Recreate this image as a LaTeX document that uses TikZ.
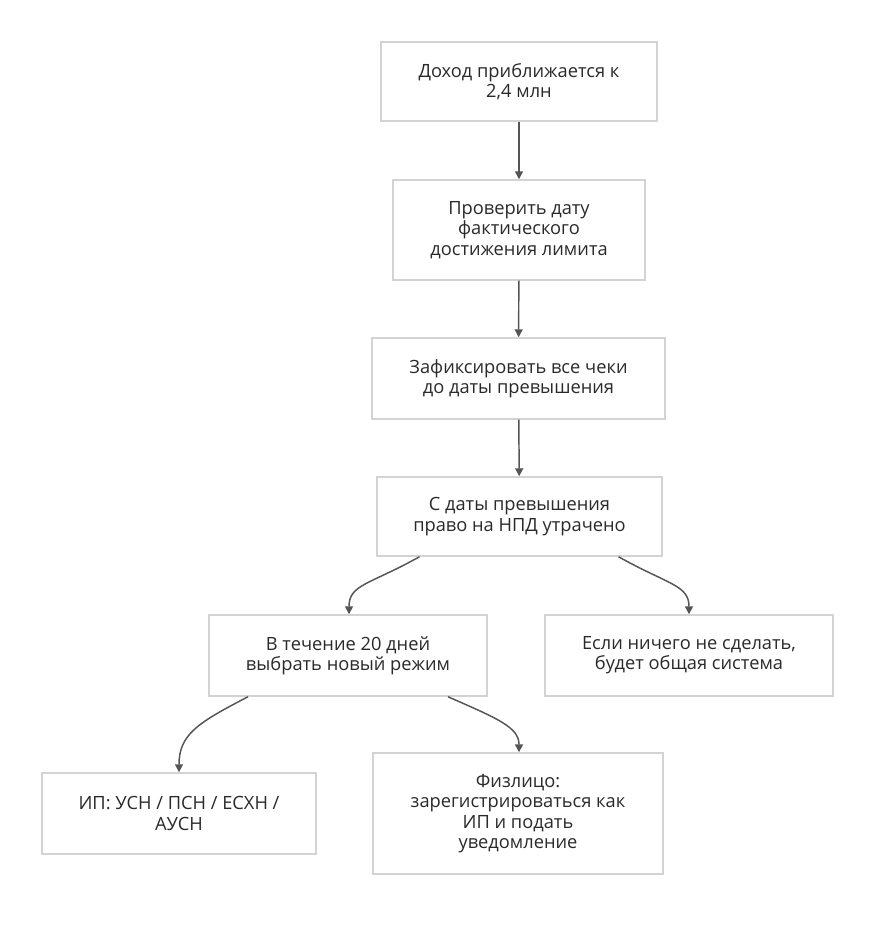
\documentclass[tikz,border=0pt]{standalone}
\usepackage{fontspec}
\setmainfont{Open Sans}
\usetikzlibrary{arrows.meta,calc}
\definecolor{boxline}{HTML}{D3D3D3}
\definecolor{edgecol}{HTML}{555555}
\definecolor{txt}{HTML}{2A2A2A}
\begin{document}
\begin{tikzpicture}[x=0.75pt,y=-0.75pt,
  box/.style={draw=boxline,line width=1.1pt,fill=white,align=center,
    text=txt,font=\fontsize{13.7pt}{15.2pt}\selectfont,inner sep=0pt},
  edge/.style={draw=edgecol,line width=1.1pt,-{Triangle[width=6pt,length=6pt]}}]
\useasboundingbox (0,0) rectangle (875,932);
\node[box,minimum width=276*0.75pt,minimum height=79*0.75pt] (n1) at (519,81.5) {Доход приближается к\\2,4 млн};
\node[box,minimum width=252*0.75pt,minimum height=100*0.75pt] (n2) at (519,230) {Проверить дату\\фактического\\достижения лимита};
\node[box,minimum width=293*0.75pt,minimum height=81*0.75pt] (n3) at (518.5,378.5) {Зафиксировать все чеки\\до даты превышения};
\node[box,minimum width=285*0.75pt,minimum height=79*0.75pt] (n4) at (519.5,516.5) {С даты превышения\\право на НПД утрачено};
\node[box,minimum width=278*0.75pt,minimum height=81*0.75pt] (n5) at (348,655.5) {В течение 20 дней\\выбрать новый режим};
\node[box,minimum width=288*0.75pt,minimum height=81*0.75pt] (n6) at (689,655.5) {Если ничего не сделать,\\будет общая система};
\node[box,minimum width=274*0.75pt,minimum height=81*0.75pt] (n7) at (179,813.5) {ИП: УСН / ПСН / ЕСХН /\\АУСН};
\node[box,minimum width=290*0.75pt,minimum height=121*0.75pt] (n8) at (518,813.5) {Физлицо:\\зарегистрироваться как\\ИП и подать\\уведомление};
\draw[edge] (n1) -- (n2);
\draw[edge] (n2) -- (n3);
\draw[edge] (n3) -- (n4);
\draw[edge] ($(n4.south)+(-100,0)$) .. controls ($(n4.south)+(-150,28)$) and ($(n5.north)+(1,-30)$) .. ($(n5.north)+(1,0)$);
\draw[edge] ($(n4.south)+(99,0)$) .. controls ($(n4.south)+(149,28)$) and (n6.north |- 0,585) .. (n6.north);
\draw[edge] ($(n5.south)+(-100,0)$) .. controls ($(n5.south)+(-150,26)$) and ($(n7.north)+(0,-38)$) .. (n7.north);
\draw[edge] ($(n5.south)+(100,0)$) .. controls ($(n5.south)+(150,22)$) and ($(n8.north)+(1,-25)$) .. ($(n8.north)+(1,0)$);
\end{tikzpicture}
\end{document}
